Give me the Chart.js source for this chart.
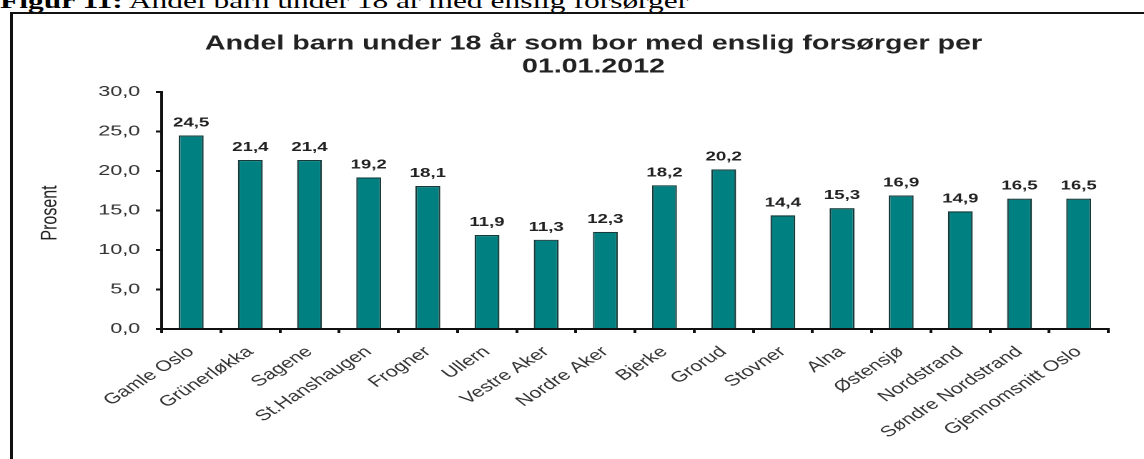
<!DOCTYPE html>
<html>
<head>
<meta charset="utf-8">
<script src="https://cdn.jsdelivr.net/npm/chart.js@4/dist/chart.umd.min.js"></script>
<style>
  html, body { margin: 0; padding: 0; background: #fff; overflow: hidden; }
  #wrap { position: relative; width: 1144px; height: 459px; overflow: hidden; }
  #caption { position: absolute; left: 0; top: -10px; font: 22px/22px "Liberation Serif", "Times New Roman", serif; color: #000; white-space: nowrap; transform-origin: 0 0; transform: scaleX(1.43); }
  #frame { position: absolute; left: 10px; top: 12px; width: 1140px; height: 460px; border-left: 3px solid #111; border-top: 2px solid #111; box-sizing: border-box; background: #fff; }
  #stretch { position: absolute; left: 0; top: 0; width: 800px; height: 459px; transform-origin: 0 0; transform: scaleX(1.43); }
</style>
</head>
<body>
<div id="wrap">
  <div id="caption"><b>Figur 11:</b> Andel barn under 18 år med enslig forsørger</div>
  <div id="frame"></div>
  <div id="stretch"><canvas id="c" width="800" height="459"></canvas></div>
</div>
<script>
const titleLines = ["Andel barn under 18 år som bor med enslig forsørger per", "01.01.2012"];
const yAxisTitle = "Prosent";
const categories = ["Gamle Oslo", "Grünerløkka", "Sagene", "St.Hanshaugen", "Frogner", "Ullern", "Vestre Aker", "Nordre Aker", "Bjerke", "Grorud", "Stovner", "Alna", "Østensjø", "Nordstrand", "Søndre Nordstrand", "Gjennomsnitt Oslo"];
const values = [24.5, 21.4, 21.4, 19.2, 18.1, 11.9, 11.3, 12.3, 18.2, 20.2, 14.4, 15.3, 16.9, 14.9, 16.5, 16.5];
const yTicks = [0, 5, 10, 15, 20, 25, 30];

const fmt = v => Number(v).toFixed(1).replace('.', ',');

const overlay = {
  id: 'overlay',
  afterDraw(chart) {
    const ctx = chart.ctx;
    ctx.save();
    ctx.fillStyle = '#222';
    ctx.font = 'bold 20px Arial, "Liberation Sans", sans-serif';
    ctx.textAlign = 'center';
    ctx.textBaseline = 'middle';
    ctx.fillText(titleLines[0], 415, 44);
    ctx.fillText(titleLines[1], 415, 67);
    ctx.save();
    ctx.translate(35, 213);
    ctx.rotate(-Math.PI / 2);
    ctx.font = '16px Arial, "Liberation Sans", sans-serif';
    ctx.fillStyle = '#222';
    ctx.fillText(yAxisTitle, 0, 0);
    ctx.restore();
    const meta = chart.getDatasetMeta(0);
    ctx.font = 'bold 13px Arial, "Liberation Sans", sans-serif';
    ctx.fillStyle = '#222';
    ctx.textBaseline = 'bottom';
    meta.data.forEach((bar, i) => {
      ctx.fillText(fmt(values[i]), bar.x, bar.y - 6);
    });
    ctx.restore();
  }
};

new Chart(document.getElementById('c'), {
  type: 'bar',
  data: {
    labels: categories,
    datasets: [{
      data: values,
      backgroundColor: '#008080',
      borderColor: '#163a3a',
      borderWidth: 1.2,
      barPercentage: 0.42,
      categoryPercentage: 1.0
    }]
  },
  options: {
    responsive: false,
    animation: false,
    devicePixelRatio: 2,
    layout: { padding: { top: 92, right: 25, left: 0, bottom: 0 } },
    plugins: { legend: { display: false }, title: { display: false }, tooltip: { enabled: false } },
    scales: {
      x: {
        offset: true,
        afterFit(scale) { scale.height = 130; },
        grid: { offset: true, drawOnChartArea: false, drawTicks: true, tickLength: 4, color: '#111', lineWidth: 2 },
        border: { color: '#111', width: 2 },
        ticks: { autoSkip: false, minRotation: 42, maxRotation: 42, padding: 10, color: '#333', font: { family: 'Arial, "Liberation Sans", sans-serif', size: 15 } }
      },
      y: {
        min: 0, max: 30,
        afterFit(scale) { scale.width = 113; },
        afterBuildTicks(scale) { scale.ticks = yTicks.map(v => ({ value: v })); },
        grid: { drawOnChartArea: false, drawTicks: true, tickLength: 4, color: '#111', lineWidth: 2 },
        border: { color: '#111', width: 2 },
        ticks: { callback: v => fmt(v), padding: 11, color: '#333', font: { family: 'Arial, "Liberation Sans", sans-serif', size: 15 } }
      }
    }
  },
  plugins: [overlay]
});
</script>
</body>
</html>
